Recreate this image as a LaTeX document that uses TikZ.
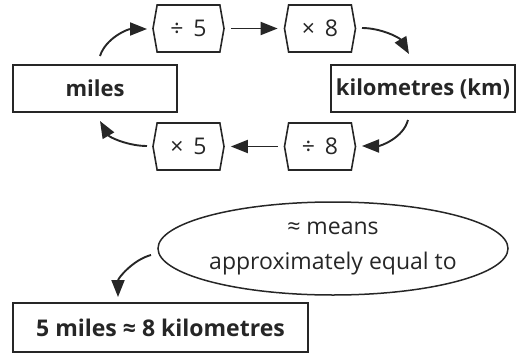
\documentclass[tikz,border=0pt]{standalone}
\usepackage{fontspec}
\setmainfont{Open Sans}
\usetikzlibrary{shapes.symbols,shapes.geometric,arrows.meta}
\definecolor{ink}{HTML}{262626}
\begin{document}
\begin{tikzpicture}[x=1pt,y=-1pt,
  every node/.style={text=ink, font=\fontsize{23}{28}\selectfont},
  opbox/.style={draw=ink, line width=1.6pt, signal, signal to=east and west, signal pointer angle=160, minimum width=71pt, minimum height=47pt, inner sep=0pt},
  unitbox/.style={draw=ink, line width=1.8pt, rectangle, inner sep=0pt, font=\fontsize{22}{26}\selectfont\bfseries},
  conn/.style={draw=ink, line width=1.9pt, -{Triangle[length=17pt,width=13pt]}}]
\useasboundingbox (0,0) rectangle (523,354);
\node[unitbox, minimum width=164pt, minimum height=47pt] (miles) at (95,88.5) {miles};
\node[unitbox, minimum width=184pt, minimum height=47pt] (km) at (423,88.5) {kilometres (km)};
\node[opbox] (d5) at (188.5,28.5) {÷\ \,5};
\node[opbox] (m8) at (320,28.5) {×\ \,8};
\node[opbox] (m5) at (188.5,146.5) {×\ \,5};
\node[opbox] (d8) at (320,146.5) {÷\ \,8};
\coordinate (a1) at (100,56);
\coordinate (a2) at (147,29);
\draw[conn] (a1) to[out=72,in=180,looseness=0.9] (a2);
\draw[conn] ([xshift=6pt]d5.east) -- ([xshift=-6pt]m8.west);
\coordinate (c1) at (362,28);
\coordinate (c2) at (409,54);
\draw[conn] (c1) to[out=0,in=120,looseness=0.9] (c2);
\coordinate (e1) at (408,120);
\coordinate (e2) at (362,146);
\draw[conn] (e1) to[out=-105,in=0,looseness=0.9] (e2);
\draw[conn] ([xshift=-6pt]d8.west) -- ([xshift=6pt]m5.east);
\coordinate (f1) at (147,146);
\coordinate (f2) at (100,121);
\draw[conn] (f1) to[out=180,in=-60,looseness=0.9] (f2);
\node[draw=ink, line width=1.5pt, ellipse, minimum width=348pt, minimum height=93pt, inner sep=0pt, align=center, font=\fontsize{23}{35}\selectfont] (ell) at (333,248.5) {≈ means\\approximately equal to};
\node[unitbox, minimum width=295pt, minimum height=49pt, font=\fontsize{23}{28}\selectfont\bfseries] (eq) at (160.5,327.5) {5 miles ≈ 8 kilometres};
\coordinate (g1) at (151,255);
\coordinate (g2) at (118,297);
\draw[conn] (g1) to[out=195,in=90,looseness=0.9] (g2);
\end{tikzpicture}
\end{document}
